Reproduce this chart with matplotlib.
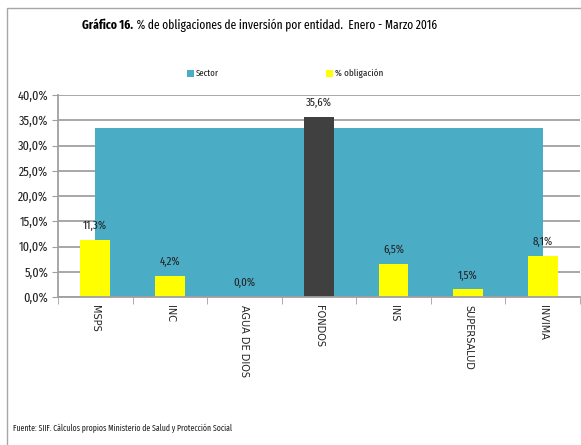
import matplotlib
matplotlib.use("Agg")
import matplotlib.pyplot as plt
import numpy as np
from matplotlib import font_manager as fm
from matplotlib.patches import Rectangle
from matplotlib.ticker import FuncFormatter, MultipleLocator

available = set(f.name for f in fm.fontManager.ttflist)
NARROW = 'DejaVu Sans'
for cand in ['Fira Sans Extra Condensed', 'Sofia Sans Extra Condensed', 'Barlow Condensed',
             'Saira Extra Condensed', 'Roboto Condensed', 'PT Sans Narrow', 'Archivo Narrow',
             'Liberation Sans Narrow', 'Carlito']:
    if cand in available:
        NARROW = cand
        break
plt.rcParams['font.family'] = [NARROW, 'DejaVu Sans']

categories = ["MSPS", "INC", "AGUA DE DIOS", "FONDOS", "INS", "SUPERSALUD", "INVIMA"]
obligacion = [11.3, 4.2, 0.0, 35.6, 6.5, 1.5, 8.1]
sector = [33.4] * 7
labels = ["11,3%", "4,2%", "0,0%", "35,6%", "6,5%", "1,5%", "8,1%"]

W, H = 581, 445
fig = plt.figure(figsize=(W / 100, H / 100), dpi=100)
fig.patches.append(Rectangle((7 / W, -0.1), 1.2, 1 - 8 / H + 0.1, transform=fig.transFigure,
                             fill=False, edgecolor='#a6a6a6', lw=1.0))

ax = fig.add_axes([58 / W, 1 - 297 / H, (580 - 58) / W, (297 - 95) / H])
x = np.arange(len(categories))
ax.fill_between(x, 0, sector, color='#4bacc6', zorder=1, lw=0)
colors = ['#ffff00' if c != "FONDOS" else '#404040' for c in categories]
ax.bar(x, obligacion, width=0.4, color=colors, zorder=2)

ax.set_xlim(-0.5, 6.5)
ax.set_ylim(0, 40)
ax.yaxis.set_major_locator(MultipleLocator(5))
ax.yaxis.set_major_formatter(FuncFormatter(lambda v, p: f"{v:.1f}%".replace('.', ',')))
ax.grid(axis='y', color='#a0a0a0', lw=1.3, zorder=0)
ax.set_axisbelow(True)
for s in ['top', 'right']:
    ax.spines[s].set_visible(False)
for s in ['left', 'bottom']:
    ax.spines[s].set_color('#a0a0a0')
    ax.spines[s].set_linewidth(1.3)
ax.tick_params(axis='y', length=4, color='#a0a0a0', labelsize=9, pad=3, labelcolor='#222222')
ax.set_xticks(x)
ax.set_xticklabels(categories, rotation=270, fontsize=7, family=['DejaVu Sans'], va='top', ha='center')
ax.tick_params(axis='x', length=0, pad=6, labelcolor='#222222')
ax.set_xticks(np.arange(-0.5, 7, 1), minor=True)
ax.tick_params(axis='x', which='minor', length=5, color='#a0a0a0')

fig.canvas.draw()
r = fig.canvas.get_renderer()

def width(t):
    return t.get_window_extent(r).width

probe = fig.text(0, 0, "40,0%", fontsize=9)
yfs = 9 * 30 / width(probe)
probe.remove()
ax.tick_params(axis='y', labelsize=yfs)

probe = fig.text(0, 0, "11,3%", fontsize=8)
dfs = 8 * 24 / width(probe)
probe.remove()
for xi, v, lab in zip(x, obligacion, labels):
    ax.text(xi, v + 1.7, lab, ha='center', va='bottom', fontsize=dfs, color='#222222', zorder=3)

ty = 1 - 25 / H
t1 = fig.text(0, ty, "Gráfico 16.", fontsize=11, fontweight='bold', ha='left', va='center')
t2 = fig.text(0, ty, " % de obligaciones de inversión por entidad.  Enero - Marzo 2016",
              fontsize=11, ha='left', va='center')
tot = width(t1) + width(t2)
fs = 11 * 355 / tot
t1.set_fontsize(fs); t2.set_fontsize(fs)
w1, w2 = width(t1), width(t2)
start = 82 + (355 - (w1 + w2)) / 2
t1.set_x(start / W)
t2.set_x((start + w1) / W)

ly = 1 - 73 / H
for mx, tx, lab, col, tw in [(187, 196, 'Sector', '#4bacc6', 23), (326, 335, '% obligación', '#ffff00', 48)]:
    fig.patches.append(Rectangle((mx / W, ly - 3.5 / H), 7 / W, 7 / H, transform=fig.transFigure,
                                 facecolor=col, edgecolor='none'))
    lt = fig.text(tx / W, ly, lab, fontsize=9, ha='left', va='center', color='#222222')
    lt.set_fontsize(9 * tw / width(lt))

src = fig.text(13 / W, 1 - 428 / H, "Fuente: SIIF. Cálculos propios Ministerio de Salud y Protección Social",
               fontsize=6.5, ha='left', va='center', color='#222222')
src.set_fontsize(6.5 * 219 / width(src))

fig.savefig("out.png", dpi=100)
